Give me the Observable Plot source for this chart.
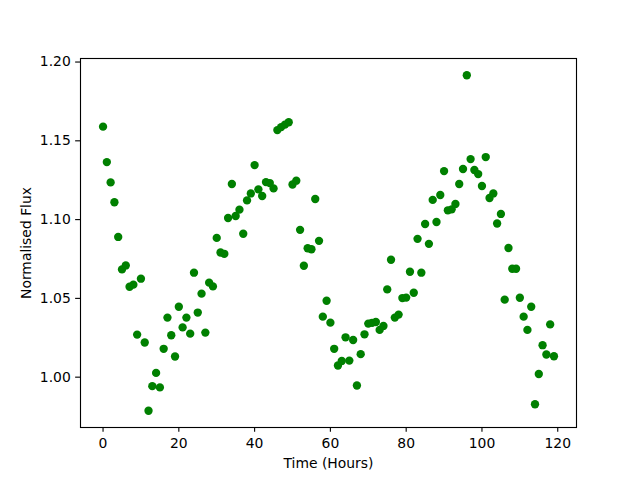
<!DOCTYPE html>
<html>
<head>
<meta charset="utf-8">
<script src="https://cdn.jsdelivr.net/npm/d3@7"></script>
<script src="https://cdn.jsdelivr.net/npm/@observablehq/plot@0.6"></script>
<style>
  html, body { margin: 0; padding: 0; background: #ffffff; }
  #chart svg { display: block; }
</style>
</head>
<body>
<div id="chart"></div>
<script>
const hours = [
  0, 1, 2, 3, 4, 5, 6, 7, 8, 9,
  10, 11, 12, 13, 14, 15, 16, 17, 18, 19,
  20, 21, 22, 23, 24, 25, 26, 27, 28, 29,
  30, 31, 32, 33, 34, 35, 36, 37, 38, 39,
  40, 41, 42, 43, 44, 45, 46, 47, 48, 49,
  50, 51, 52, 53, 54, 55, 56, 57, 58, 59,
  60, 61, 62, 63, 64, 65, 66, 67, 68, 69,
  70, 71, 72, 73, 74, 75, 76, 77, 78, 79,
  80, 81, 82, 83, 84, 85, 86, 87, 88, 89,
  90, 91, 92, 93, 94, 95, 96, 97, 98, 99,
  100, 101, 102, 103, 104, 105, 106, 107, 108, 109,
  110, 111, 112, 113, 114, 115, 116, 117, 118, 119
];

const flux = [
  1.1590, 1.1365, 1.1236, 1.1110, 1.0890, 1.0684, 1.0709, 1.0574, 1.0587, 1.0270,
  1.0625, 1.0220, 0.9787, 0.9943, 1.0027, 0.9935, 1.0180, 1.0378, 1.0266, 1.0131,
  1.0447, 1.0316, 1.0378, 1.0276, 1.0663, 1.0410, 1.0530, 1.0283, 1.0600, 1.0576,
  1.0884, 1.0791, 1.0783, 1.1010, 1.1226, 1.1023, 1.1063, 1.0910, 1.1122, 1.1166,
  1.1346, 1.1192, 1.1150, 1.1238, 1.1232, 1.1198, 1.1568, 1.1587, 1.1603, 1.1618,
  1.1223, 1.1247, 1.0935, 1.0707, 1.0818, 1.0812, 1.1131, 1.0865, 1.0384, 1.0485,
  1.0346, 1.0180, 1.0074, 1.0103, 1.0253, 1.0105, 1.0236, 0.9947, 1.0146, 1.0272,
  1.0340, 1.0345, 1.0350, 1.0300, 1.0325, 1.0557, 1.0745, 1.0378, 1.0397, 1.0502,
  1.0505, 1.0669, 1.0536, 1.0878, 1.0663, 1.0972, 1.0846, 1.1125, 1.0985, 1.1156,
  1.1308, 1.1059, 1.1065, 1.1099, 1.1226, 1.1321, 1.1916, 1.1384, 1.1315, 1.1289,
  1.1213, 1.1397, 1.1137, 1.1166, 1.0975, 1.1036, 1.0492, 1.0820, 1.0688, 1.0688,
  1.0504, 1.0384, 1.0300, 1.0447, 0.9828, 1.0020, 1.0203, 1.0144, 1.0335, 1.0133
];

const xTicks = [0, 20, 40, 60, 80, 100, 120];
const yTicks = [1.00, 1.05, 1.10, 1.15, 1.20];
const xLabel = "Time (Hours)";
const yLabel = "Normalised Flux";

const data = hours.map((h, i) => ({hour: h, flux: flux[i]}));

function padded(values) {
  const [lo, hi] = d3.extent(values);
  const m = (hi - lo) * 0.05;
  return [lo - m, hi + m];
}

const pt = 100 / 72;

const chart = Plot.plot({
  width: 640,
  height: 480,
  marginLeft: 80,
  marginRight: 64,
  marginTop: 58,
  marginBottom: 53,
  style: {
    fontFamily: "'DejaVu Sans', sans-serif",
    fontSize: "13.9px",
    color: "black",
    background: "white",
    overflow: "visible"
  },
  x: {domain: padded(hours)},
  y: {domain: padded(flux)},
  marks: [
    Plot.dot(data, {x: "hour", y: "flux", r: 3 * pt, fill: "#008000", stroke: "none"}),
    Plot.frame({stroke: "black", strokeWidth: 0.8 * pt}),
    Plot.axisX({
      ticks: xTicks,
      tickSize: 3.5 * pt,
      tickPadding: 5.3,
      strokeWidth: 0.8 * pt,
      label: null
    }),
    Plot.axisY({
      ticks: yTicks,
      tickFormat: ".2f",
      tickSize: 3.5 * pt,
      tickPadding: 3.5 * pt,
      strokeWidth: 0.8 * pt,
      label: null
    }),
    Plot.text([xLabel], {
      frameAnchor: "bottom",
      text: d => d,
      dy: 36,
      lineAnchor: "middle",
      textAnchor: "middle",
      fill: "black"
    }),
    Plot.text([yLabel], {
      frameAnchor: "left",
      text: d => d,
      dx: -54,
      rotate: -90,
      lineAnchor: "middle",
      textAnchor: "middle",
      fill: "black"
    })
  ]
});

document.getElementById("chart").appendChild(chart);
</script>
</body>
</html>
